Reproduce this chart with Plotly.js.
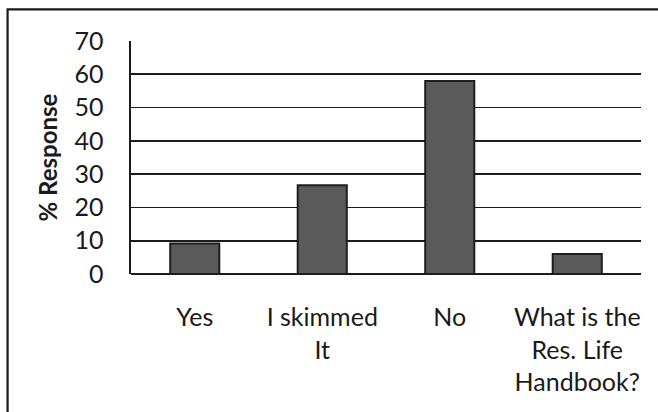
<!DOCTYPE html>
<html>
<head>
<meta charset="utf-8">
<script src="https://cdn.plot.ly/plotly-3.0.1.min.js"></script>
<style>
  html, body { margin: 0; padding: 0; background: #ffffff; }
  #chart { width: 658px; height: 412px; }
</style>
</head>
<body>
<div id="chart"></div>
<script>
// Survey answers: has the respondent read the handbook?
const categories = ["Yes", "I skimmed<br>It", "No", "What is the<br>Res. Life<br>Handbook?"];
const responsePct = [9.2, 26.7, 58.0, 6.0];
const yTicks = [0, 10, 20, 30, 40, 50, 60, 70];

const FONT = "Lato, 'Open Sans', 'Liberation Sans', sans-serif";

const trace = {
  type: "bar",
  x: categories,
  y: responsePct,
  marker: {
    color: "#5a5a5a",
    line: { color: "#1e1e1e", width: 2 }
  },
  hoverinfo: "skip"
};

const layout = {
  width: 658,
  height: 412,
  margin: { l: 131, r: 17, t: 41, b: 138 },
  paper_bgcolor: "#ffffff",
  plot_bgcolor: "#ffffff",
  showlegend: false,
  bargap: 0.615,
  font: { family: FONT, size: 25, color: "#1a1a1a" },
  xaxis: {
    type: "category",
    showgrid: false,
    zeroline: false,
    showline: false,
    ticks: "",
    ticklabelstandoff: 26,
    tickfont: { family: FONT, size: 25, color: "#1a1a1a" },
    fixedrange: true
  },
  yaxis: {
    range: [0, 70],
    tickvals: yTicks,
    ticktext: yTicks.map(String),
    showgrid: true,
    gridcolor: "#1c1c1c",
    gridwidth: 1.6,
    zeroline: true,
    zerolinecolor: "#1c1c1c",
    zerolinewidth: 1.6,
    showline: true,
    linecolor: "#1c1c1c",
    linewidth: 1.6,
    ticks: "",
    ticklabelstandoff: 21,
    tickfont: { family: FONT, size: 25, color: "#1a1a1a" },
    title: {
      text: "<b>% Response</b>",
      font: { family: FONT, size: 24, color: "#1a1a1a" },
      standoff: 10
    },
    fixedrange: true
  },
  // outer chart frame, running off the right and bottom edges
  shapes: [{
    type: "rect",
    xref: "paper", yref: "paper",
    x0: -0.242, x1: 1.2,
    y0: -0.8, y1: 1.136,
    line: { color: "#1a1a1a", width: 2.2 },
    fillcolor: "rgba(0,0,0,0)",
    layer: "above"
  }]
};

Plotly.newPlot("chart", [trace], layout, { staticPlot: true, displayModeBar: false });
</script>
</body>
</html>
